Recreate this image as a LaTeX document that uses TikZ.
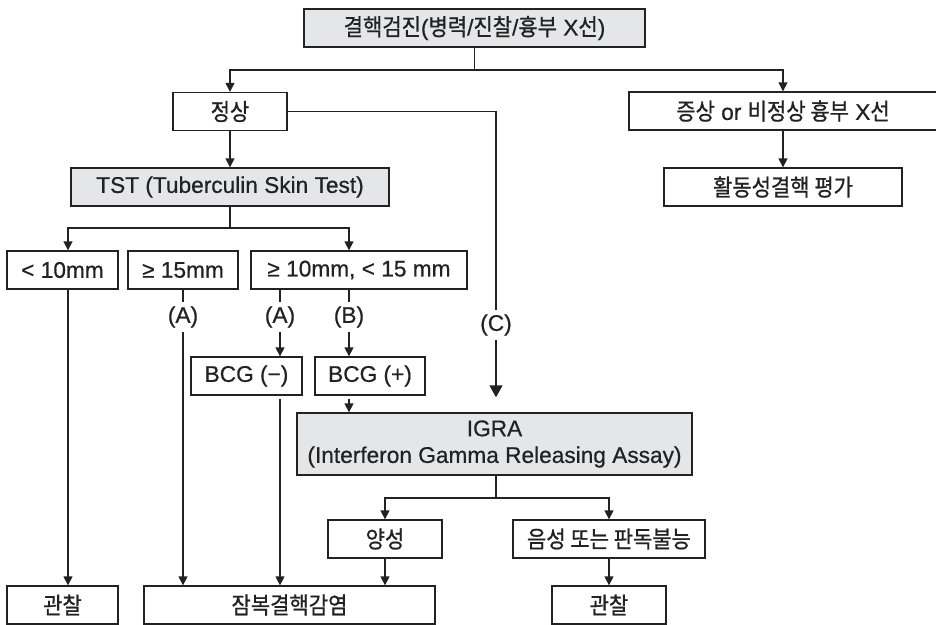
\documentclass[tikz,border=0pt]{standalone}
\usepackage{fontspec}
\setmainfont{Liberation Sans}[FakeBold=0.6]
\newfontfamily\krfont{Noto Sans CJK KR}[FakeStretch=0.9,FakeBold=0.8]
\newcommand{\K}[1]{{\krfont\fontsize{17.5}{20}\selectfont #1}}
\usetikzlibrary{arrows.meta}
\definecolor{boxgray}{RGB}{229,230,231}
\definecolor{ink}{RGB}{34,34,34}
\begin{document}
\begin{tikzpicture}[x=0.75pt,y=-0.75pt,
  font=\fontsize{17}{20}\selectfont,
  box/.style={draw=ink,line width=1pt,fill=white,inner sep=0pt,minimum height=28.5pt,text=ink},
  gbox/.style={box,fill=boxgray},
  lab/.style={inner sep=0pt,minimum height=21.75pt,text=ink},
  conn/.style={draw=ink,line width=1pt},
  arr/.style={conn,-{Triangle[length=6.75pt,width=6.75pt]}},
  bigarr/.style={conn,-{Triangle[length=9pt,width=9.75pt]}}]
\useasboundingbox (0,0) rectangle (936,625);
% boxes
\node[gbox,minimum width=255.75pt] (top) at (474.5,28) {\K{결핵검진}(\K{병력}/\K{진찰}/\K{흉부} X\K{선})};
\node[box,minimum width=85.5pt] (normal) at (230,111.5) {\K{정상}};
\node[box,minimum width=231pt] (symp) at (783,111) {\K{증상} or \K{비정상 흉부} X\K{선}};
\node[box,minimum width=178.5pt] (active) at (783,187) {\K{활동성결핵 평가}};
\node[gbox,minimum width=238.5pt] (tst) at (230,187) {TST (Tuberculin Skin Test)};
\node[box,minimum width=83.25pt] (lt10) at (62.5,270) {< 10mm};
\node[box,minimum width=82.5pt] (ge15) at (183,270) {≥ 15mm};
\node[box,minimum width=162pt] (mid) at (359,270) {≥ 10mm, < 15 mm};
\node[box,minimum width=83.25pt] (bcgm) at (246.5,376) {BCG (−)};
\node[box,minimum width=82.5pt] (bcgp) at (370,376) {BCG (+)};
\node[gbox,minimum width=296.25pt,minimum height=46.5pt,align=center] (igra) at (494.5,444) {IGRA\\(Interferon Gamma Releasing Assay)};
\node[box,minimum width=85.5pt] (pos) at (385,539) {\K{양성}};
\node[box,minimum width=144pt] (neg) at (609,539) {\K{음성 또는 판독불능}};
\node[box,minimum width=83.25pt] (obs1) at (62.5,605) {\K{관찰}};
\node[box,minimum width=218.25pt] (latent) at (289.5,605) {\K{잠복결핵감염}};
\node[box,minimum width=85.5pt] (obs2) at (609,605) {\K{관찰}};
% labels
\node[lab] (labA1) at (183,317) {(A)};
\node[lab] (labA2) at (280,317) {(A)};
\node[lab] (labB) at (349,317) {(B)};
\node[lab] (labC) at (496,325) {(C)};
% junctions
\coordinate (j1) at (474.5,70);
\coordinate (j2) at (230,228);
\coordinate (j3) at (496,498);
\coordinate (x68) at (68,0);
\coordinate (x349) at (349,0);
% connectors
\draw[conn] (top.south) -- (j1);
\draw[arr] (j1) -| (normal.north);
\draw[arr] (j1) -| (symp.north);
\draw[arr] (symp.south) -- (active.north);
\draw[arr] (normal.south) -- (tst.north);
\draw[conn] (normal.east) -| (labC.north);
\draw[bigarr,shorten >=11.25pt] (labC.south) -- (igra.north -| labC);
\draw[conn] (tst.south) -- (j2);
\draw[arr] (j2) -| (lt10.north -| x68);
\draw[arr] (j2) -| (mid.north -| x349);
\draw[arr] (lt10.south -| x68) -- (obs1.north -| x68);
\draw[conn] (ge15.south) -- (labA1.north);
\draw[arr] (labA1.south) -- (latent.north -| labA1);
\draw[conn] (mid.south -| labA2) -- (labA2.north);
\draw[arr] (labA2.south) -- (bcgm.north -| labA2);
\draw[conn] (mid.south -| labB) -- (labB.north);
\draw[arr] (labB.south) -- (bcgp.north -| labB);
\draw[arr,shorten <=2.25pt] (bcgm.south -| labA2) -- (latent.north -| labA2);
\draw[arr,shorten <=2.25pt] (bcgp.south -| labB) -- (igra.north -| labB);
\draw[conn] (igra.south -| j3) -- (j3);
\draw[arr] (j3) -| (pos.north);
\draw[arr] (j3) -| (neg.north);
\draw[arr] (pos.south) -- (latent.north -| pos);
\draw[arr] (neg.south) -- (obs2.north);
\end{tikzpicture}
\end{document}
